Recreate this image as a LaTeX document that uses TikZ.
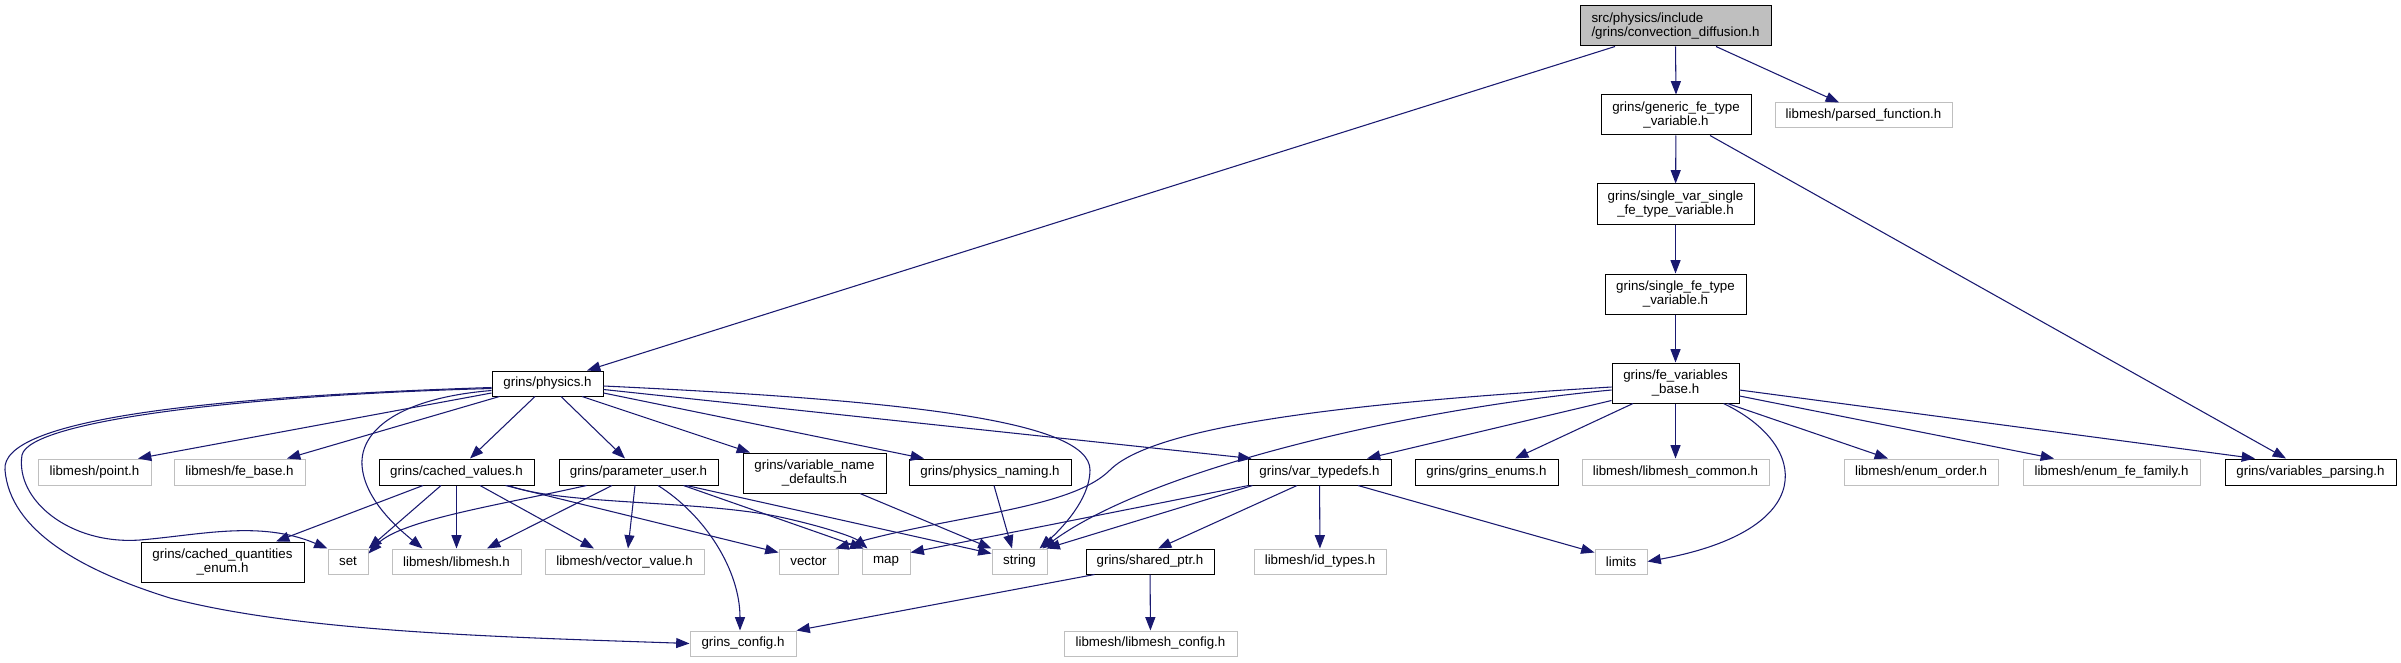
\documentclass[tikz,border=0pt]{standalone}
\usepackage{fontspec}
\setmainfont{Liberation Sans}
\usetikzlibrary{arrows.meta,calc}
\definecolor{edgeblue}{RGB}{25,25,112}
\definecolor{grey75}{RGB}{191,191,191}
\tikzset{
  bx/.style 2 args={minimum width=#1*0.75pt, minimum height=#2*0.75pt},
  nd/.style={draw, line width=0.75pt, inner sep=0pt, align=center,
    font=\fontsize{10pt}{11pt}\selectfont},
  blk/.style={nd, draw=black, fill=white},
  gry/.style={nd, draw=grey75, fill=white},
  root/.style={nd, draw=black, fill=grey75, align=left},
  e/.style={draw=edgeblue, line width=0.8pt,
    -{Triangle[length=10pt,width=7.5pt]}, fill=none},
}
\begin{document}
\begin{tikzpicture}[x=0.75pt,y=-0.75pt]
\useasboundingbox (0,0) rectangle (2401,663);
% nodes
\node[root,bx={191}{40}] (top) at (1675.5,26) {src/physics/include\\/grins/convection\_diffusion.h};
\node[blk,bx={150}{40}] (gen) at (1676,115) {grins/generic\_fe\_type\\\_variable.h};
\node[gry,bx={177}{25}] (parsed) at (1863.5,115.5) {libmesh/parsed\_function.h};
\node[blk,bx={157}{40}] (svar) at (1675.5,204) {grins/single\_var\_single\\\_fe\_type\_variable.h};
\node[blk,bx={141}{40}] (sfe) at (1675.5,294) {grins/single\_fe\_type\\\_variable.h};
\node[blk,bx={127}{40}] (fevb) at (1675.5,383) {grins/fe\_variables\\\_base.h};
\node[blk,bx={111}{25}] (phys) at (547.5,383.5) {grins/physics.h};
% row 3
\node[gry,bx={113}{26}] (point) at (94.5,472) {libmesh/point.h};
\node[gry,bx={131}{26}] (febase) at (239.5,472) {libmesh/fe\_base.h};
\node[blk,bx={155}{26}] (cval) at (456.5,472) {grins/cached\_values.h};
\node[blk,bx={159}{26}] (puser) at (638.5,472) {grins/parameter\_user.h};
\node[blk,bx={143}{40}] (vnd) at (814.5,473) {grins/variable\_name\\\_defaults.h};
\node[blk,bx={162}{26}] (pnam) at (990,472) {grins/physics\_naming.h};
\node[blk,bx={143}{26}] (vtd) at (1319.5,472) {grins/var\_typedefs.h};
\node[blk,bx={143}{26}] (genums) at (1486.5,472) {grins/grins\_enums.h};
\node[gry,bx={187}{26}] (lmcommon) at (1675.5,472) {libmesh/libmesh\_common.h};
\node[gry,bx={154}{26}] (eorder) at (1921,472) {libmesh/enum\_order.h};
\node[gry,bx={177}{26}] (efam) at (2111.5,472) {libmesh/enum\_fe\_family.h};
\node[blk,bx={171}{26}] (vpars) at (2310.5,472) {grins/variables\_parsing.h};
% row 4
\node[blk,bx={163}{40}] (cqe) at (222.5,562) {grins/cached\_quantities\\\_enum.h};
\node[gry,bx={40}{25}] (set) at (348,561.5) {set};
\node[gry,bx={129}{25}] (lmesh) at (456.5,561.5) {libmesh/libmesh.h};
\node[gry,bx={159}{25}] (vval) at (624.5,561.5) {libmesh/vector\_value.h};
\node[gry,bx={59}{25}] (vector) at (808.5,561.5) {vector};
\node[gry,bx={48}{25}] (map) at (886,561.5) {map};
\node[gry,bx={55}{25}] (string) at (1019.5,561.5) {string};
\node[blk,bx={128}{25}] (shptr) at (1150,561.5) {grins/shared\_ptr.h};
\node[gry,bx={132}{25}] (idt) at (1320,561.5) {libmesh/id\_types.h};
\node[gry,bx={52}{25}] (limits) at (1621,561.5) {limits};
% row 5
\node[gry,bx={106}{25}] (gcfg) at (743,643.5) {grins\_config.h};
\node[gry,bx={173}{25}] (lmcfg) at (1150.5,643.5) {libmesh/libmesh\_config.h};
% edges from top
\draw[e] ($(top.south)+(-60.5,0)$) -- ($(phys.north)+(39.5,0)$);
\draw[e] (top.south) -- (gen.north);
\draw[e] ($(top.south)+(40.5,0)$) -- ($(parsed.north)+(-24.5,0)$);
\draw[e] (gen) -- (svar);
\draw[e] ($(gen.south)+(34,0)$) -- ($(vpars.north)+(-24.5,0)$);
\draw[e] (svar) -- (sfe);
\draw[e] (sfe) -- (fevb);
% fe_variables_base
\draw[e] ($(fevb.south west)+(0,-3)$) -- ($(vtd.north)+(47.5,0)$);
\draw[e] ($(fevb.south)+(-42.5,0)$) -- ($(genums.north)+(28.5,0)$);
\draw[e] (fevb) -- (lmcommon);
\draw[e] ($(fevb.south)+(52,0)$) -- ($(eorder.north)+(-33,0)$);
\draw[e] ($(fevb.east)+(0,13)$) -- ($(efam.north)+(-57.5,0)$);
\draw[e] ($(fevb.east)+(0,7)$) -- ($(vpars.north)+(-55.5,0)$);
\draw[e] ($(fevb.south)+(48,0)$) .. controls (1810,445) and (1820,530) .. (limits.east);
\draw[e] ($(fevb.west)+(0,4)$) .. controls (1400,400) and (1160,420) .. (1110,470) .. controls (1070,510) and (950,515) .. ($(vector.north east)+(-3,0)$);
\draw[e] ($(fevb.west)+(0,7)$) .. controls (1400,410) and (1150,470) .. ($(string.north east)+(-5,0)$);
% var_typedefs
\draw[e] ($(vtd.south)+(-22.5,0)$) -- ($(shptr.north)+(8,0)$);
\draw[e] (vtd) -- (idt);
\draw[e] ($(vtd.south west)+(1,0)$) -- ($(map.north east)+(0,4)$);
\draw[e] ($(vtd.south west)+(5,0)$) -- ($(string.north east)+(-1,0)$);
\draw[e] ($(vtd.south)+(38.5,0)$) -- ($(limits.north west)+(0,4)$);
% shared_ptr
\draw[e] ($(shptr.south west)+(9,0)$) -- (gcfg.north east);
\draw[e] (shptr) -- (lmcfg);
% physics
\draw[e] ($(phys.west)+(0,9.5)$) -- ($(point.north)+(43.5,0)$);
\draw[e] ($(phys.south west)+(8,0)$) -- ($(febase.north)+(47.5,0)$);
\draw[e] ($(phys.south)+(-12.5,0)$) -- ($(cval.north)+(13.5,0)$);
\draw[e] ($(phys.south)+(13.5,0)$) -- ($(puser.north)+(-13.5,0)$);
\draw[e] ($(phys.south)+(34.5,0)$) -- ($(vnd.north)+(-64.5,0)$);
\draw[e] ($(phys.east)+(0,9.5)$) -- ($(pnam.north)+(-66,0)$);
\draw[e] ($(phys.east)+(0,6)$) -- ($(vtd.north west)+(4,0)$);
\draw[e] ($(phys.east)+(0,2.5)$) .. controls (900,400) and (1090,420) .. (1090,470) .. controls (1090,500) and (1060,530) .. ($(string.north east)+(-8,0)$);
\draw[e] ($(phys.west)+(0,5)$) .. controls (250,395) and (30,420) .. (22,455) .. controls (15,500) and (70,545) .. (140,540) .. controls (200,535) and (260,520) .. (set.north west);
\draw[e] ($(phys.west)+(0,4)$) .. controls (200,397) and (0,420) .. (5,470) .. controls (10,530) and (80,570) .. (170,598) .. controls (300,632) and (500,637) .. (gcfg.west);
\draw[e] ($(phys.west)+(0,7)$) .. controls (400,398) and (360,430) .. (362,465) .. controls (364,500) and (400,530) .. ($(lmesh.north west)+(31,0)$);
% cached_values
\draw[e] ($(cval.south)+(-33.5,0)$) -- ($(cqe.north)+(53.5,0)$);
\draw[e] ($(cval.south)+(-15.5,0)$) -- (set.north east);
\draw[e] (cval) -- (lmesh);
\draw[e] ($(cval.south)+(23.5,0)$) -- ($(vval.north)+(-30.5,0)$);
\draw[e] ($(cval.south east)+(-29,0)$) -- ($(vector.north west)+(0,4)$);
\draw[e] ($(cval.south east)+(-26,0)$) .. controls (560,505) and (700,500) .. (780,517) .. controls (830,528) and (855,538) .. ($(map.north west)+(6,0)$);
% parameter_user
\draw[e] ($(puser.south west)+(28,0)$) .. controls (500,505) and (400,520) .. ($(set.east)+(0,-8)$);
\draw[e] ($(puser.south)+(-26.5,0)$) -- ($(lmesh.north)+(30.5,0)$);
\draw[e] ($(puser.south)+(-3.5,0)$) -- ($(vval.north)+(3.5,0)$);
\draw[e] ($(puser.south)+(19.5,0)$) .. controls (705,515) and (740,570) .. ($(gcfg.north)+(-3,0)$);
\draw[e] ($(puser.south east)+(-35,0)$) -- ($(map.north west)+(2,0)$);
\draw[e] ($(puser.south east)+(-32,0)$) -- ($(string.west)+(0,-8)$);
% others
\draw[e] ($(vnd.south)+(45.5,0)$) -- (string.north west);
\draw[e] ($(pnam.south)+(4,0)$) -- ($(string.north)+(-7.5,0)$);
\end{tikzpicture}
\end{document}
